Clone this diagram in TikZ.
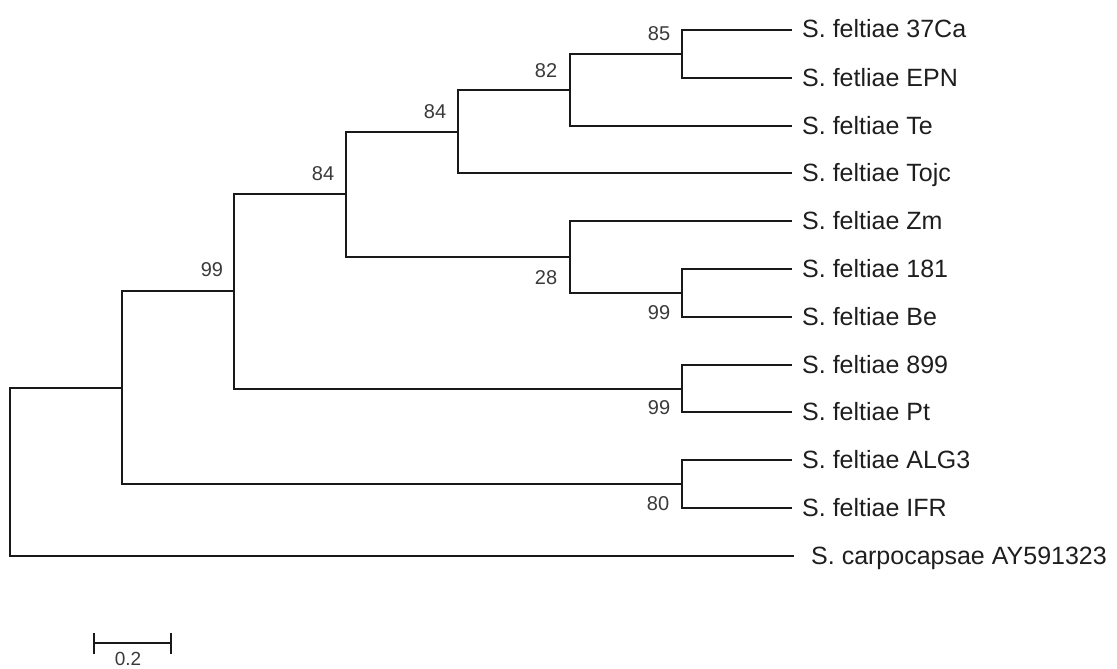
\documentclass[tikz,border=0pt]{standalone}
\usepackage{fontspec}
\setmainfont{Liberation Sans}
\definecolor{leafcol}{HTML}{1E1E1E}
\definecolor{numcol}{HTML}{3A3A3A}
\begin{document}
\begin{tikzpicture}[x=1pt,y=-1pt,
  branch/.style={draw=black!90, line width=2pt, line cap=rect},
  leaf/.style={anchor=base west, inner sep=0pt, text=leafcol, font=\fontsize{25}{29}\selectfont},
  boot/.style={anchor=center, inner sep=0pt, text=numcol, font=\fontsize{20}{24}\selectfont}]
\useasboundingbox (0,0) rectangle (1117,669);
% leaf tips
\coordinate (t1) at (791,30);
\coordinate (t2) at (791,78);
\coordinate (t3) at (791,126);
\coordinate (t4) at (791,173);
\coordinate (t5) at (791,221);
\coordinate (t6) at (791,269);
\coordinate (t7) at (791,317);
\coordinate (t8) at (791,365);
\coordinate (t9) at (791,412);
\coordinate (t10) at (791,460);
\coordinate (t11) at (791,508);
\coordinate (t12) at (793,556);
% internal nodes
\coordinate (n85) at (682,54);
\coordinate (n82) at (570,90);
\coordinate (n84a) at (458,132);
\coordinate (n99a) at (682,293);
\coordinate (n28) at (570,257);
\coordinate (n84b) at (346,194);
\coordinate (n99b) at (682,389);
\coordinate (n99c) at (234,291);
\coordinate (n80) at (682,484);
\coordinate (n122) at (122,388);
\coordinate (root) at (10,472);
% branches
\draw[branch] (t1) -| (n85) |- (t2);
\draw[branch] (n85) -| (n82) |- (t3);
\draw[branch] (n82) -| (n84a) |- (t4);
\draw[branch] (t6) -| (n99a) |- (t7);
\draw[branch] (t5) -| (n28) |- (n99a);
\draw[branch] (n84a) -| (n84b) |- (n28);
\draw[branch] (t8) -| (n99b) |- (t9);
\draw[branch] (n84b) -| (n99c) |- (n99b);
\draw[branch] (t10) -| (n80) |- (t11);
\draw[branch] (n99c) -| (n122) |- (n80);
\draw[branch] (n122) -| (root) |- (t12);
% leaf labels
\node[leaf] (l1) at (802,38) {S. feltiae 37Ca};
\node[leaf] (l2) at (802,86) {S. fetliae EPN};
\node[leaf] (l3) at (802,134) {S. feltiae Te};
\node[leaf] (l4) at (802,181) {S. feltiae Tojc};
\node[leaf] (l5) at (802,229) {S. feltiae Zm};
\node[leaf] (l6) at (802,277) {S. feltiae 181};
\node[leaf] (l7) at (802,325) {S. feltiae Be};
\node[leaf] (l8) at (802,373) {S. feltiae 899};
\node[leaf] (l9) at (802,420) {S. feltiae Pt};
\node[leaf] (l10) at (802,468) {S. feltiae ALG3};
\node[leaf] (l11) at (802,516) {S. feltiae IFR};
\node[leaf] (l12) at (811,564) {S. carpocapsae AY591323};
% bootstrap values
\node[boot] (b85) at (659,34) {85};
\node[boot] (b82) at (546,71) {82};
\node[boot] (b84a) at (435,112) {84};
\node[boot] (b84b) at (323,174) {84};
\node[boot] (b99c) at (212,270) {99};
\node[boot] (b28) at (546,278) {28};
\node[boot] (b99a) at (659,313) {99};
\node[boot] (b99b) at (659,408) {99};
\node[boot] (b80) at (658,504) {80};
% scale bar
\coordinate (s1) at (94,643);
\coordinate (s2) at (171,643);
\draw[branch, line width=1.6pt, line cap=butt] (s1) -- (s2);
\draw[branch, line width=1.6pt, line cap=butt] ([yshift=-11pt]s1) -- ([yshift=10pt]s1);
\draw[branch, line width=1.6pt, line cap=butt] ([yshift=-11pt]s2) -- ([yshift=10pt]s2);
\node[boot, anchor=north, font=\fontsize{19}{22}\selectfont] (sl) at (128,652) {0.2};
\end{tikzpicture}
\end{document}
